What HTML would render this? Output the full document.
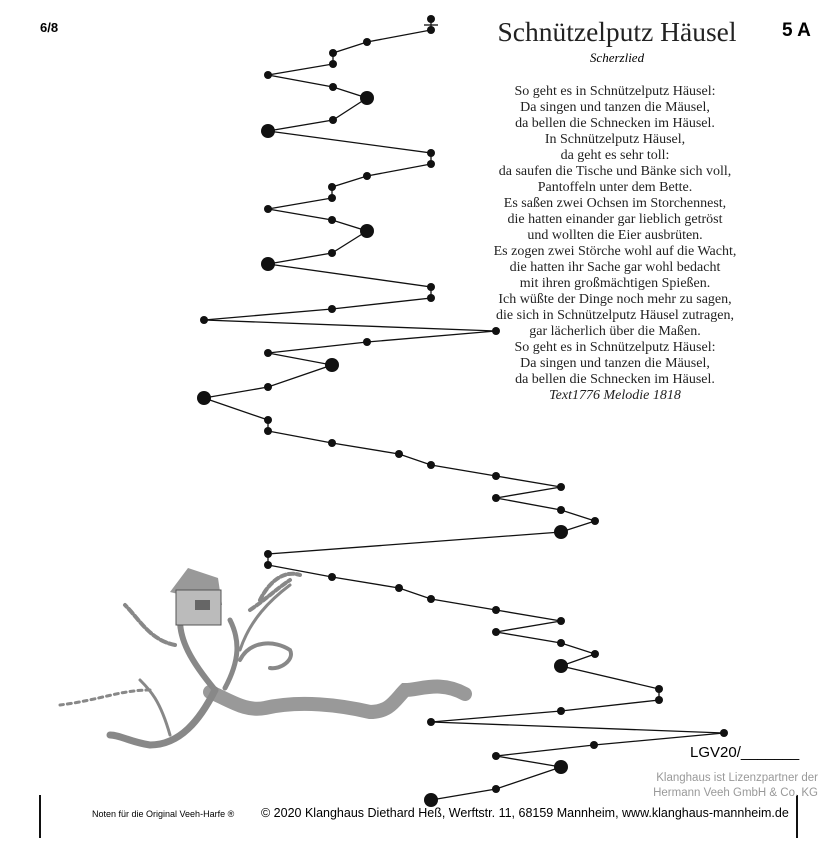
<!DOCTYPE html>
<html><head><meta charset="utf-8"><style>
body{margin:0;background:#fff;width:838px;height:842px;overflow:hidden;position:relative;font-family:"Liberation Serif",serif;}
.a{position:absolute;}
</style></head><body>
<svg class="a" style="left:0;top:0" width="838" height="842">
<g fill="none" stroke="#888" stroke-linecap="round">
<path d="M465,694 C440,680 420,690 405,690 C395,700 390,712 370,712 C340,705 300,700 265,708 C245,712 230,700 210,692" stroke-width="14" stroke="#999"/>
<path d="M215,690 C200,720 180,745 150,745 C130,742 120,735 110,735" stroke-width="7"/>
<path d="M215,690 C190,660 180,640 180,620" stroke-width="6"/>
<path d="M225,688 C240,660 240,640 230,620" stroke-width="5"/>
<path d="M240,660 C250,640 275,640 290,650 C295,660 280,670 270,668" stroke-width="4"/>
<path d="M240,650 C250,620 270,600 290,585" stroke-width="3"/>
<path d="M170,735 C160,700 150,690 140,680" stroke-width="3"/>
<path d="M150,690 C120,690 100,700 60,705" stroke-width="3" stroke-dasharray="4 4"/>
<path d="M175,645 C150,640 140,620 125,605" stroke-width="4" stroke-dasharray="6 3"/>
<path d="M260,600 C270,580 285,570 300,575" stroke-width="4" stroke-dasharray="5 3"/>
<path d="M250,610 C265,600 275,590 290,580" stroke-width="4" stroke-dasharray="5 3"/>
</g>
<polygon points="170,592 188,568 218,578 222,605" fill="#999"/>
<rect x="176" y="590" width="45" height="35" fill="#bbb" stroke="#555"/>
<rect x="195" y="600" width="15" height="10" fill="#666"/>
<g stroke="#111" stroke-width="1.3" fill="none">
<polyline points="431,19 431,30 367,42 333,53 333,64 268,75 333,87 367,98 333,120 268,131 431,153 431,164 367,176 332,187 332,198 268,209 332,220 367,231 332,253 268,264 431,287 431,298 332,309 204,320 496,331 367,342 268,353 332,365 268,387 204,398 268,420 268,431 332,443 399,454 431,465 496,476 561,487 496,498 561,510 595,521 561,532 268,554 268,565 332,577 399,588 431,599 496,610 561,621 496,632 561,643 595,654 561,666 659,689 659,700 561,711 431,722 724,733 594,745 496,756 561,767 496,789 431,800"/>
<line x1="424" y1="25" x2="438" y2="25"/>
</g>
<g fill="#111">
<circle cx="431" cy="19" r="4"/><circle cx="431" cy="30" r="4"/><circle cx="367" cy="42" r="4"/><circle cx="333" cy="53" r="4"/><circle cx="333" cy="64" r="4"/><circle cx="268" cy="75" r="4"/><circle cx="333" cy="87" r="4"/><circle cx="367" cy="98" r="7"/><circle cx="333" cy="120" r="4"/><circle cx="268" cy="131" r="7"/>
<circle cx="431" cy="153" r="4"/><circle cx="431" cy="164" r="4"/><circle cx="367" cy="176" r="4"/><circle cx="332" cy="187" r="4"/><circle cx="332" cy="198" r="4"/><circle cx="268" cy="209" r="4"/><circle cx="332" cy="220" r="4"/><circle cx="367" cy="231" r="7"/><circle cx="332" cy="253" r="4"/><circle cx="268" cy="264" r="7"/>
<circle cx="431" cy="287" r="4"/><circle cx="431" cy="298" r="4"/><circle cx="332" cy="309" r="4"/><circle cx="204" cy="320" r="4"/><circle cx="496" cy="331" r="4"/><circle cx="367" cy="342" r="4"/><circle cx="268" cy="353" r="4"/><circle cx="332" cy="365" r="7"/><circle cx="268" cy="387" r="4"/><circle cx="204" cy="398" r="7"/>
<circle cx="268" cy="420" r="4"/><circle cx="268" cy="431" r="4"/><circle cx="332" cy="443" r="4"/><circle cx="399" cy="454" r="4"/><circle cx="431" cy="465" r="4"/><circle cx="496" cy="476" r="4"/><circle cx="561" cy="487" r="4"/><circle cx="496" cy="498" r="4"/><circle cx="561" cy="510" r="4"/><circle cx="595" cy="521" r="4"/><circle cx="561" cy="532" r="7"/>
<circle cx="268" cy="554" r="4"/><circle cx="268" cy="565" r="4"/><circle cx="332" cy="577" r="4"/><circle cx="399" cy="588" r="4"/><circle cx="431" cy="599" r="4"/><circle cx="496" cy="610" r="4"/><circle cx="561" cy="621" r="4"/><circle cx="496" cy="632" r="4"/><circle cx="561" cy="643" r="4"/><circle cx="595" cy="654" r="4"/><circle cx="561" cy="666" r="7"/>
<circle cx="659" cy="689" r="4"/><circle cx="659" cy="700" r="4"/><circle cx="561" cy="711" r="4"/><circle cx="431" cy="722" r="4"/><circle cx="724" cy="733" r="4"/><circle cx="594" cy="745" r="4"/><circle cx="496" cy="756" r="4"/><circle cx="561" cy="767" r="7"/><circle cx="496" cy="789" r="4"/><circle cx="431" cy="800" r="7"/>
</g>
<rect x="39" y="795" width="2" height="43" fill="#111"/>
<rect x="796" y="795" width="2" height="43" fill="#111"/>
</svg>
<div class="a" style="left:40px;top:20px;font:bold 13px 'Liberation Sans',sans-serif">6/8</div>
<div class="a" style="left:782px;top:20px;font:bold 19px 'Liberation Sans',sans-serif">5 A</div>
<div class="a" style="left:470px;width:294px;top:16px;text-align:center;font-size:27.5px;color:#222">Schnützelputz Häusel</div>
<div class="a" style="left:480px;width:274px;top:50px;text-align:center;font-size:13px;font-style:italic">Scherzlied</div>
<div class="a" style="left:460px;width:310px;top:84px;text-align:center;font-size:14px;line-height:16px;color:#222">So geht es in Schnützelputz Häusel:<br>Da singen und tanzen die Mäusel,<br>da bellen die Schnecken im Häusel.<br>In Schnützelputz Häusel,<br>da geht es sehr toll:<br>da saufen die Tische und Bänke sich voll,<br>Pantoffeln unter dem Bette.<br>Es saßen zwei Ochsen im Storchennest,<br>die hatten einander gar lieblich getröst<br>und wollten die Eier ausbrüten.<br>Es zogen zwei Störche wohl auf die Wacht,<br>die hatten ihr Sache gar wohl bedacht<br>mit ihren großmächtigen Spießen.<br>Ich wüßte der Dinge noch mehr zu sagen,<br>die sich in Schnützelputz Häusel zutragen,<br>gar lächerlich über die Maßen.<br>So geht es in Schnützelputz Häusel:<br>Da singen und tanzen die Mäusel,<br>da bellen die Schnecken im Häusel.<br><i>Text1776 Melodie 1818</i></div>
<div class="a" style="left:690px;top:744px;font:15px 'Liberation Sans',sans-serif">LGV20/_______</div>
<div class="a" style="right:20px;top:771px;text-align:right;font:11.5px/15px 'Liberation Sans',sans-serif;color:#999">Klanghaus ist Lizenzpartner der<br>Hermann Veeh GmbH &amp; Co. KG</div>
<div class="a" style="left:92px;top:809px;font:9px 'Liberation Sans',sans-serif">Noten für die Original Veeh-Harfe ®</div>
<div class="a" style="left:261px;top:806px;font:12.5px 'Liberation Sans',sans-serif">© 2020 Klanghaus Diethard Heß, Werftstr. 11, 68159 Mannheim, www.klanghaus-mannheim.de</div>
</body></html>
